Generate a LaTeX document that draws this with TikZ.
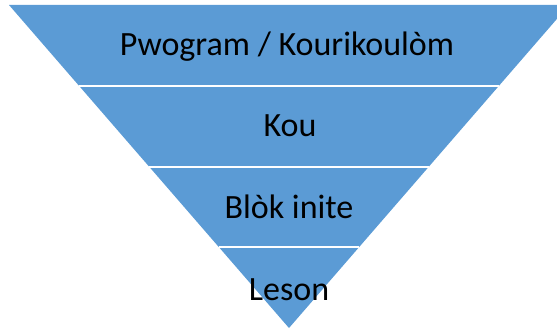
\documentclass[tikz,border=0pt]{standalone}
\usepackage{fontspec}
\setmainfont{Carlito}
\usetikzlibrary{calc}
\definecolor{levelblue}{HTML}{5B9BD5}

\begin{document}
\begin{tikzpicture}[x=1pt,y=-1pt]
  \tikzstyle{band}=[fill=levelblue]
  \tikzstyle{divider}=[white, line width=2pt]
  \tikzstyle{label}=[anchor=base, inner sep=0pt, text=black, font=\fontsize{34}{40}\selectfont]
  \useasboundingbox (0,0) rectangle (557,329);
  \clip (0,0) rectangle (557,329);

  \coordinate (tl) at (9,5);
  \coordinate (tr) at (569,5);
  \coordinate (apex) at (289,328);

  \fill[band] (tl) -- (tr) -- (apex) -- cycle;

  \draw[divider] ($(tl)!0.25!(apex)$) -- ($(tr)!0.25!(apex)$);
  \draw[divider] ($(tl)!0.5!(apex)$) -- ($(tr)!0.5!(apex)$);
  \draw[divider] ($(tl)!0.75!(apex)$) -- ($(tr)!0.75!(apex)$);

  \node[label] (prog) at (287,56) {Pwogram / Kourikoulòm};
  \node[label] (kou) at (290,136) {Kou};
  \node[label] (blok) at (289,218) {Blòk inite};
  \node[label] (leson) at (289,300) {Leson};
\end{tikzpicture}
\end{document}
